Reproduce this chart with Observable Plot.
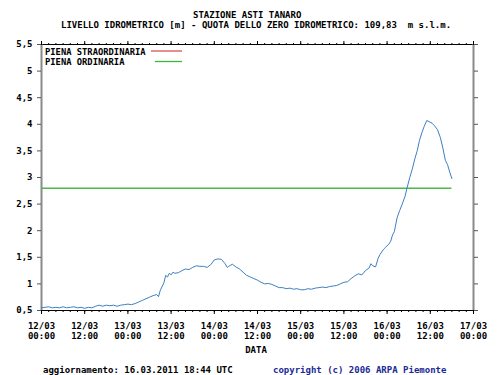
<!DOCTYPE html>
<html><head><meta charset="utf-8">
<script src="https://cdn.jsdelivr.net/npm/d3@7"></script>
<script src="https://cdn.jsdelivr.net/npm/@observablehq/plot@0.6"></script>
<style>
body{margin:0;background:#fff;font-family:"DejaVu Sans Mono",monospace;font-weight:bold;font-size:9px;color:#000}
#wrap{position:relative;width:500px;height:375px;overflow:hidden}
.t{position:absolute;white-space:pre;line-height:10px}
#legsw{position:absolute;left:145px;top:15px;z-index:5}
</style></head><body>
<div id="wrap">
  <div id="head" style="position:relative;height:30px">
    <span class="t" id="title" style="left:193px;top:10px"></span>
    <span class="t" id="subtitle" style="left:61px;top:20px"></span>
  </div>
  <div id="chart" style="position:relative;height:310px">
    <span class="t" id="leg1" style="left:45px;top:17px;font-size:8.8px;z-index:5"></span>
    <span class="t" id="leg2" style="left:45px;top:27px;font-size:8.8px;z-index:5"></span>
    <svg id="legsw" width="40" height="22">
      <line x1="6" x2="37" y1="6" y2="6" stroke="#d9534f" stroke-width="1.3"></line>
      <line x1="10" x2="37" y1="16.5" y2="16.5" stroke="#3fb43f" stroke-width="1.3"></line>
    </svg>
  </div>
  <div class="t" id="xlabel" style="position:relative;width:500px;text-align:center;padding-left:12px;box-sizing:border-box;margin-top:5px;height:10px"></div>
  <div style="position:relative;height:20px;margin-top:10px">
    <span class="t" id="upd" style="left:43px;top:0"></span>
    <span class="t" id="copy" style="left:273px;top:0;color:#1b2a96"></span>
  </div>
</div>
<script>
// ---- texts ----
const titleText = "STAZIONE ASTI TANARO";
const subtitleText = "LIVELLO IDROMETRICO [m] - QUOTA DELLO ZERO IDROMETRICO: 109,83  m s.l.m.";
const legendLabels = ["PIENA STRAORDINARIA", "PIENA ORDINARIA"];
const xAxisLabel = "DATA";
const updateText = "aggiornamento: 16.03.2011 18:44 UTC";
const copyrightText = "copyright (c) 2006 ARPA Piemonte";

// ---- scales / ticks ----
const startTime = "2011-03-12T00:00:00Z";
const endTime = "2011-03-17T00:00:00Z";
const yDomain = [0.5, 5.5];
const yTicks = [0.5, 1, 1.5, 2, 2.5, 3, 3.5, 4, 4.5, 5, 5.5];
const xTickTimes = ["2011-03-12T00:00:00Z","2011-03-12T12:00:00Z","2011-03-13T00:00:00Z","2011-03-13T12:00:00Z",
  "2011-03-14T00:00:00Z","2011-03-14T12:00:00Z","2011-03-15T00:00:00Z","2011-03-15T12:00:00Z",
  "2011-03-16T00:00:00Z","2011-03-16T12:00:00Z","2011-03-17T00:00:00Z"];
const pienaOrdinaria = 2.8;

// ---- series: [hours since 12/03 00:00 UTC, level m] ----
const levelReadings = [
 [0,0.55],[1,0.56],[2,0.57],[3,0.55],[4,0.56],[5,0.55],[6,0.57],[7,0.55],[8,0.56],[9,0.57],
 [10,0.55],[11,0.56],[12,0.54],[13,0.56],[14,0.55],[15,0.58],[16,0.60],[17,0.58],[18,0.60],[19,0.59],
 [20,0.60],[21,0.58],[22,0.60],[23,0.61],[24,0.62],[25,0.61],[26,0.63],[27,0.66],[28,0.69],[29,0.72],
 [30,0.75],[31,0.78],[32,0.80],[32.5,0.76],[33,0.88],[34,1.02],[34.5,1.16],[35,1.13],[35.5,1.20],[36,1.17],
 [36.5,1.22],[37,1.20],[38,1.21],[39,1.25],[40,1.28],[41,1.27],[42,1.31],[43,1.34],[44,1.33],[45,1.33],
 [46,1.31],[47,1.36],[48,1.45],[49,1.47],[50,1.46],[51,1.38],[51.6,1.31],[52,1.33],[53,1.37],[54,1.32],
 [55,1.28],[56,1.22],[57,1.16],[58,1.13],[59,1.10],[60,1.07],[61,1.03],[62,1.00],[63,1.01],[64,0.99],
 [65,0.96],[66,0.93],[67,0.93],[68,0.91],[69,0.92],[70,0.90],[71,0.91],[72,0.89],[73,0.89],[74,0.91],
 [75,0.90],[76,0.92],[77,0.93],[78,0.94],[79,0.93],[80,0.95],[81,0.96],[82,0.97],[83,1.00],[84,1.03],
 [85,1.04],[86,1.10],[87,1.15],[88,1.19],[89,1.17],[90,1.25],[91,1.30],[91.5,1.38],[92,1.34],[92.8,1.32],
 [93.5,1.48],[94,1.55],[95,1.65],[95.6,1.69],[96.5,1.75],[97,1.80],[97.5,1.92],[98,1.98],[98.8,2.25],[99.5,2.38],
 [100.2,2.50],[101,2.65],[101.6,2.82],[102.3,3.00],[103,3.16],[103.7,3.35],[104.4,3.51],[105,3.70],[105.7,3.85],[106.3,3.96],
 [107,4.07],[107.7,4.05],[108.5,4.02],[109.2,3.97],[110,3.90],[110.8,3.75],[111.5,3.55],[112.2,3.32],[112.8,3.24],[113.4,3.10],
 [114,2.98]
];

// ---- build ----
const t0 = new Date(startTime), t1 = new Date(endTime);
const data = levelReadings.map(([h, v]) => ({date: new Date(+t0 + h * 3600e3), level: v}));
const lastDate = data[data.length - 1].date;
const majorTicks = xTickTimes.map(s => new Date(s));
const minorTicks = d3.utcHour.every(2).range(t0, new Date(+t1 + 1));
const fmtDay = d3.utcFormat("%d/%m"), fmtHour = d3.utcFormat("%H:%M");
const yFmt = d => String(d).replace(".", ",");
const blank = () => "";

document.getElementById("title").textContent = titleText;
document.getElementById("subtitle").textContent = subtitleText;
document.getElementById("leg1").textContent = legendLabels[0];
document.getElementById("leg2").textContent = legendLabels[1];
document.getElementById("xlabel").textContent = xAxisLabel;
document.getElementById("upd").textContent = updateText;
document.getElementById("copy").textContent = copyrightText;

const chart = Plot.plot({
  width: 500, height: 310,
  marginLeft: 41, marginRight: 27, marginTop: 14, marginBottom: 30,
  style: {fontFamily: "DejaVu Sans Mono", fontSize: "9px", fontWeight: "bold", color: "#000", background: "transparent"},
  x: {type: "utc", domain: [t0, t1]},
  y: {domain: yDomain},
  marks: [
    // frame
    Plot.ruleY([yDomain[0], yDomain[1]], {stroke: "#000", strokeWidth: 1}),
    Plot.ruleX([t0, t1], {stroke: "#8a8a8a", strokeWidth: 2}),
    // y axes
    Plot.axisY({anchor: "left", ticks: yTicks, tickSize: 4, tickPadding: 5, tickFormat: yFmt, label: null, stroke: "#555", fill: "#000"}),
    Plot.axisY({anchor: "right", ticks: yTicks, tickSize: 4, tickFormat: blank, label: null, stroke: "#555"}),
    // x axes
    Plot.axisX({anchor: "bottom", ticks: minorTicks, tickSize: 2, tickFormat: blank, label: null, stroke: "#000"}),
    Plot.axisX({anchor: "bottom", ticks: majorTicks, tickSize: 4, tickPadding: 7, lineHeight: 1.11,
      tickFormat: d => fmtDay(d) + "\n" + fmtHour(d), label: null, stroke: "#000", fill: "#000"}),
    Plot.axisX({anchor: "top", ticks: minorTicks, tickSize: 2, tickFormat: blank, label: null, stroke: "#000"}),
    Plot.axisX({anchor: "top", ticks: majorTicks, tickSize: 4, tickFormat: blank, label: null, stroke: "#000"}),
    // piena ordinaria
    Plot.ruleY([pienaOrdinaria], {x1: t0, x2: lastDate, stroke: "#4cb84c", strokeWidth: 1.5}),
    // level
    Plot.line(data, {x: "date", y: "level", stroke: "#3d80c0", strokeWidth: 1})
  ]
});
chart.style.position = "absolute";
chart.style.left = "0"; chart.style.top = "0";
document.getElementById("chart").prepend(chart);
</script>
</body></html>
